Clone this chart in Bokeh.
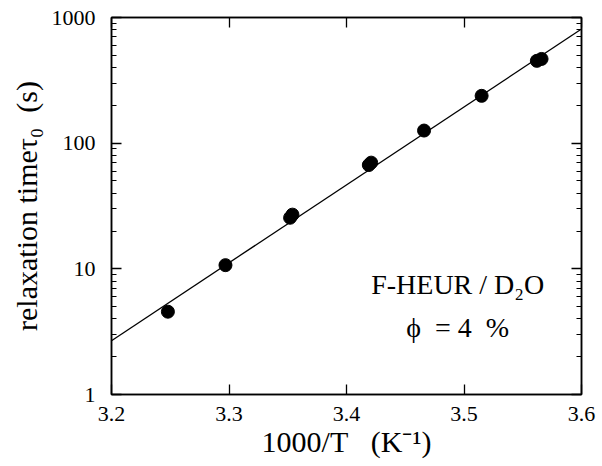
from bokeh.plotting import figure
from bokeh.models import LinearAxis, LogAxis, FixedTicker, Label, Range1d, ColumnDataSource, PrintfTickFormatter
from bokeh.embed import file_html
from bokeh.resources import INLINE

# data
inv_T = [3.248, 3.297, 3.352, 3.354, 3.419, 3.421, 3.466, 3.515, 3.562, 3.566]
tau0 = [4.56, 10.7, 25.5, 27.0, 67.0, 70.0, 126.0, 238.0, 452.0, 468.0]
fit_x = [3.2, 3.6]
fit_tau = [2.68, 810.0]
x_ticks = [3.2, 3.3, 3.4, 3.5, 3.6]
y_ticks = [1, 10, 100, 1000]
y_minor = [m * d for d in [1, 10, 100] for m in range(2, 10)]
x_title = "1000/T\u00a0\u00a0\u00a0(K\u207b\u00b9)"
y_title = "relaxation time\u03c4\u2080\u00a0\u00a0(s)"
note_line1 = "F-HEUR / D\u2082O"
note_line2 = "\u03d5\u2002= 4\u2002%"

SERIF = "Liberation Serif"

p = figure(width=596, height=464, x_range=Range1d(3.2, 3.6), y_range=Range1d(1, 1000),
           y_axis_type="log", output_backend="svg", toolbar_location=None,
           min_border_left=111, min_border_right=15, min_border_top=17, min_border_bottom=70)
p.grid.visible = False
p.background_fill_color = "white"
p.border_fill_color = "white"
p.outline_line_color = "black"
p.outline_line_width = 1.5

src = ColumnDataSource(dict(x=inv_T, y=tau0))
fit = ColumnDataSource(dict(x=fit_x, y=fit_tau))
p.line("x", "y", source=fit, line_color="black", line_width=1.3)
p.scatter("x", "y", source=src, size=13, fill_color="black", line_color="black")

def common(ax, labels, standoff):
    ax.major_tick_in = 10
    ax.major_tick_out = 0
    ax.minor_tick_out = 0
    ax.axis_line_color = "black"
    ax.axis_line_width = 1.5
    ax.major_tick_line_width = 1.3
    ax.minor_tick_line_width = 1.2
    ax.major_label_text_font = SERIF
    ax.major_label_text_font_size = "22px"
    ax.major_label_text_color = "black"
    ax.major_label_standoff = standoff
    ax.axis_label_text_font = SERIF
    ax.axis_label_text_font_size = "30px"
    ax.axis_label_text_font_style = "normal"
    ax.axis_label_text_color = "black"
    if not labels:
        ax.major_label_text_font_size = "1px"
        ax.major_label_text_color = None
        ax.major_label_standoff = 0

def style_x(ax, labels=True):
    ax.ticker = FixedTicker(ticks=x_ticks)
    ax.minor_tick_in = 0
    common(ax, labels, 12)

def style_y(ax, labels=True):
    ax.ticker = FixedTicker(ticks=y_ticks, minor_ticks=y_minor)
    ax.minor_tick_in = 5
    ax.formatter = PrintfTickFormatter(format="%d")
    common(ax, labels, 16)

xb = p.xaxis[0]
style_x(xb)
xb.axis_label = x_title
xb.axis_label_standoff = 1

yl = p.yaxis[0]
style_y(yl)
yl.axis_label = y_title
yl.axis_label_standoff = 6

xt = LinearAxis()
style_x(xt, labels=False)
p.add_layout(xt, "above")

yr = LogAxis()
style_y(yr, labels=False)
p.add_layout(yr, "right")

for txt, xv, yv in [(note_line1, 3.421, 7.47), (note_line2, 3.4508, 3.44)]:
    p.add_layout(Label(x=xv, y=yv, text=txt, text_align="left", text_baseline="alphabetic",
                       text_font=SERIF, text_font_size="28px", text_color="black"))

open("out.html", "w").write(file_html(p, INLINE))
